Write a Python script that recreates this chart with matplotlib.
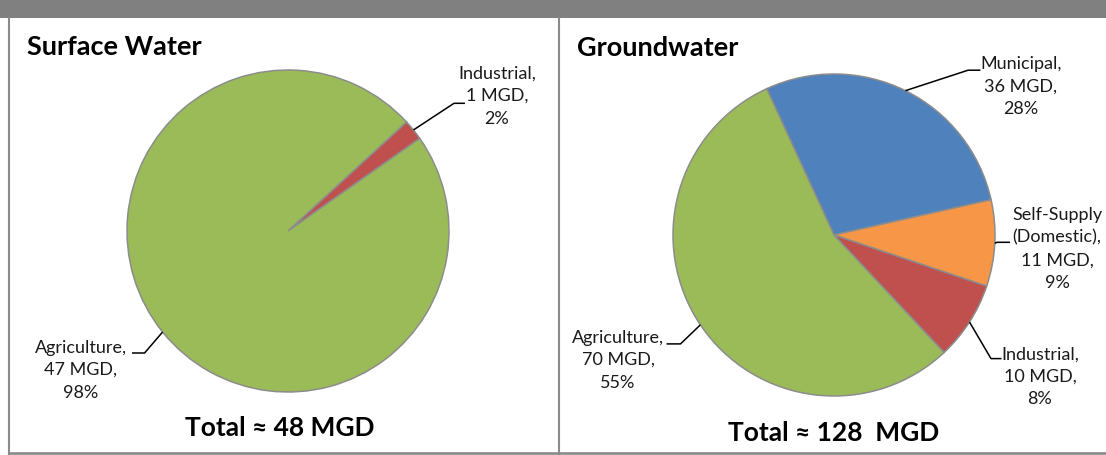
import matplotlib
matplotlib.use('Agg')
import matplotlib.pyplot as plt
from matplotlib.patches import Rectangle
from matplotlib.lines import Line2D
import numpy as np

plt.rcParams['font.family'] = ['Lato', 'DejaVu Sans']

# data
sw_labels = ['Industrial', 'Agriculture']
sw_values = [1, 47]
sw_total = 48
gw_labels = ['Municipal', 'Self-Supply\n(Domestic)', 'Industrial', 'Agriculture']
gw_values = [36, 11, 10, 70]
gw_total = 128

colors_sw = ['#C0504D', '#9BBB59']
colors_gw = ['#4F81BD', '#F79646', '#C0504D', '#9BBB59']

W, H = 1106, 455
R = 161  # pie radius in px

fig = plt.figure(figsize=(W / 100, H / 100), dpi=100)
fig.patch.set_facecolor('white')


def fx(x):
    return x / W


def fy(y):
    return 1 - y / H


# frame: top band, left edge, divider, bottom line
fig.add_artist(Rectangle((0, fy(18)), 1, 18 / H, transform=fig.transFigure,
                         facecolor='#808080', edgecolor='none'))
for x in (9.3, 559.2):
    fig.add_artist(Line2D([fx(x), fx(x)], [fy(18), fy(454)], transform=fig.transFigure,
                          color='#8a8a8a', lw=1.5))
fig.add_artist(Line2D([fx(9), 1], [fy(453), fy(453)], transform=fig.transFigure,
                      color='#8a8a8a', lw=1.9))


def draw_pie(cx, cy, names, values, colors, start, layout):
    ax = fig.add_axes([fx(cx - R), fy(cy + R), 2 * R / W, 2 * R / H])
    wedges, _ = ax.pie(values, colors=colors, startangle=start, counterclock=False,
                       radius=1, wedgeprops=dict(edgecolor='#8c8c8c', linewidth=1.1))
    ax.set_xlim(-1, 1)
    ax.set_ylim(-1, 1)
    ax.set_aspect('equal')
    ax.axis('off')
    total = sum(values)
    for w, name, v, (tx, ty, ex, ey, hx, hy) in zip(wedges, names, values, layout):
        mid = np.deg2rad((w.theta1 + w.theta2) / 2)
        sx, sy = np.cos(mid), np.sin(mid)
        ax.plot([sx, ex / R, hx / R], [sy, ey / R, hy / R], color='black', lw=1.1,
                clip_on=False, solid_capstyle='butt')
        pct = round(100 * v / total)
        ax.text(tx / R, ty / R, f"{name},\n{v} MGD,\n{pct}%", ha='center', va='center',
                multialignment='center', fontsize=13, linespacing=1.5, color='#1a1a1a')
    return ax


# label layout: text centre, elbow, end of horizontal (px offsets from pie centre, y up)
sw_layout = [(209, 135, 166, 127.7, 177, 127.7),
             (-207, -139, -143.4, -122, -156, -122)]
gw_layout = [(187, 148, 134.1, 164.8, 146.4, 164.8),
             (223, -14, 163, -7.3, 176, -7.3),
             (206, -142, 157, -123.6, 167.5, -123.6),
             (-216, -125, -153.5, -108.9, -167.5, -108.9)]

draw_pie(288, 231, sw_labels, sw_values, colors_sw, 42.6, sw_layout)
draw_pie(834, 235, gw_labels, gw_values, colors_gw, 114.7, gw_layout)

fig.text(fx(27), fy(47), 'Surface Water', fontsize=19.5, fontweight='bold',
         ha='left', va='center')
fig.text(fx(577), fy(48), 'Groundwater', fontsize=19.5, fontweight='bold',
         ha='left', va='center')
fig.text(fx(280), fy(428), f'Total \u2248 {sw_total} MGD', fontsize=19, fontweight='bold',
         ha='center', va='center')
fig.text(fx(834), fy(433), f'Total \u2248 {gw_total}  MGD', fontsize=19, fontweight='bold',
         ha='center', va='center')

fig.savefig('out.png', dpi=100)
